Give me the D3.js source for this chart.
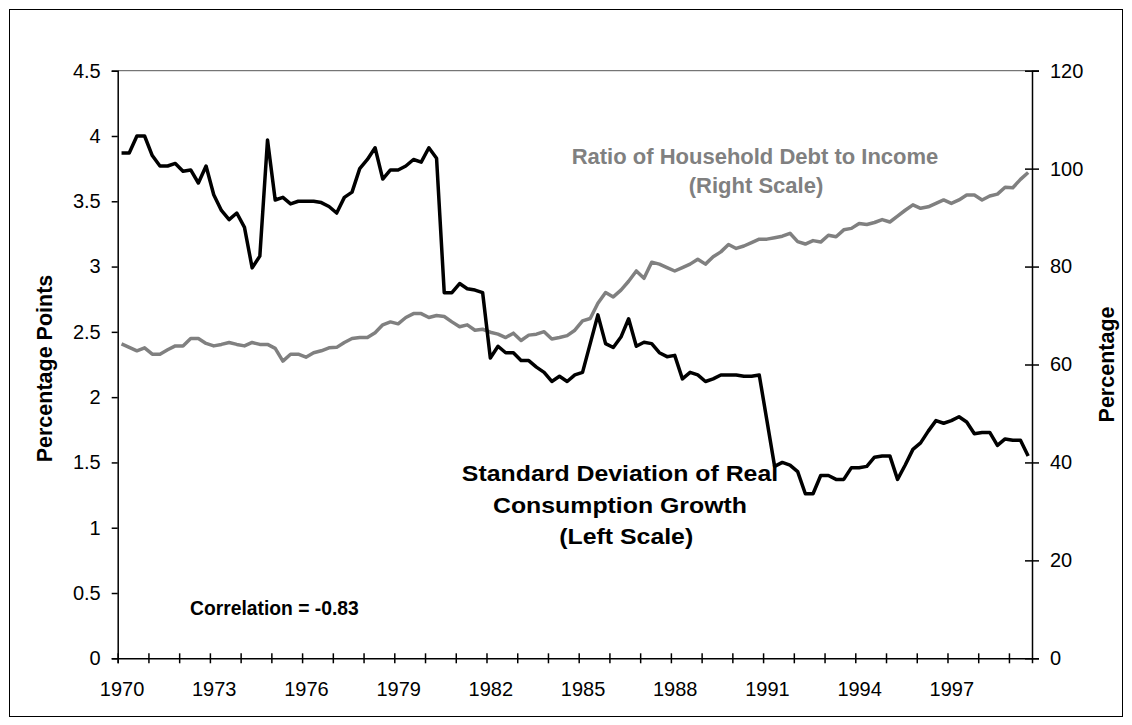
<!DOCTYPE html>
<html>
<head>
<meta charset="utf-8">
<script src="https://cdn.jsdelivr.net/npm/d3@7"></script>
<style>
  html, body { margin: 0; padding: 0; background: #fff; }
  svg { display: block; font-family: "Liberation Sans", Arial, sans-serif; }
</style>
</head>
<body>
<svg id="chart" width="1132" height="725"></svg>
<script>
// ---- DATA (quarterly, 1970Q1 .. 1999Q3) ----
const years = d3.range(1970, 2000);
const categories = [];
years.forEach(y => [1, 2, 3, 4].forEach(q => categories.push(y + "Q" + q)));
categories.length = 119;

const yearLabels = ["1970", "1973", "1976", "1979", "1982", "1985", "1988", "1991", "1994", "1997"];
const leftTicks = [0, 0.5, 1, 1.5, 2, 2.5, 3, 3.5, 4, 4.5];
const rightTicks = [0, 20, 40, 60, 80, 100, 120];

// Standard deviation of real consumption growth (left scale)
const stdDev = [
  3.87, 3.87, 4.00, 4.00, 3.85, 3.77, 3.77, 3.79, 3.73, 3.74,
  3.64, 3.77, 3.55, 3.43, 3.36, 3.41, 3.30, 2.99, 3.08, 3.97,
  3.51, 3.53, 3.48, 3.50, 3.50, 3.50, 3.49, 3.46, 3.41, 3.53,
  3.57, 3.75, 3.82, 3.91, 3.67, 3.74, 3.74, 3.77, 3.82, 3.80,
  3.91, 3.83, 2.80, 2.80, 2.87, 2.83, 2.82, 2.80, 2.30, 2.39,
  2.34, 2.34, 2.28, 2.28, 2.23, 2.19, 2.12, 2.16, 2.12, 2.17,
  2.19, 2.41, 2.63, 2.41, 2.38, 2.46, 2.60, 2.39, 2.42, 2.41,
  2.34, 2.31, 2.32, 2.14, 2.19, 2.17, 2.12, 2.14, 2.17, 2.17,
  2.17, 2.16, 2.16, 2.17, 1.82, 1.47, 1.50, 1.48, 1.43, 1.26,
  1.26, 1.40, 1.40, 1.37, 1.37, 1.46, 1.46, 1.47, 1.54, 1.55,
  1.55, 1.37, 1.48, 1.60, 1.65, 1.74, 1.82, 1.80, 1.82, 1.85,
  1.81, 1.72, 1.73, 1.73, 1.63, 1.68, 1.67, 1.67, 1.55
];

// Ratio of household debt to income (right scale, %)
const debtRatio = [
  64.2, 63.5, 62.8, 63.4, 62.1, 62.1, 63.0, 63.8, 63.8, 65.3,
  65.3, 64.3, 63.8, 64.1, 64.5, 64.1, 63.8, 64.5, 64.1, 64.1,
  63.3, 60.7, 62.1, 62.1, 61.5, 62.4, 62.8, 63.4, 63.5, 64.5,
  65.3, 65.5, 65.5, 66.5, 68.1, 68.7, 68.3, 69.6, 70.4, 70.4,
  69.6, 70.0, 69.8, 68.7, 67.7, 68.1, 67.0, 67.2, 66.6, 66.2,
  65.5, 66.4, 64.9, 66.0, 66.2, 66.7, 65.2, 65.5, 65.9, 67.0,
  68.9, 69.4, 72.5, 74.7, 73.8, 75.2, 77.0, 79.1, 77.6, 80.9,
  80.5, 79.8, 79.1, 79.8, 80.5, 81.5, 80.5, 82.0, 83.0, 84.5,
  83.7, 84.2, 84.9, 85.6, 85.6, 85.9, 86.2, 86.8, 85.1, 84.6,
  85.3, 85.0, 86.4, 86.1, 87.5, 87.8, 88.8, 88.6, 89.0, 89.6,
  89.1, 90.3, 91.5, 92.6, 91.9, 92.2, 92.9, 93.6, 92.9, 93.6,
  94.6, 94.6, 93.6, 94.4, 94.8, 96.2, 96.1, 97.8, 99.2
];

// ---- LAYOUT ----
const plot = { left: 117.7, right: 1032, top: 70.7, bottom: 658.3 };
const svg = d3.select("#chart");

// outer border
svg.append("rect").attr("x", 9.5).attr("y", 9.5).attr("width", 1113).attr("height", 707)
  .attr("fill", "none").attr("stroke", "#000").attr("stroke-width", 1);

const x = d3.scaleLinear().domain([0, categories.length]).range([plot.left, plot.right]);
const yL = d3.scaleLinear().domain([0, 4.5]).range([plot.bottom, plot.top]);
const yR = d3.scaleLinear().domain([0, 120]).range([plot.bottom, plot.top]);

// plot-area top border
svg.append("line").attr("x1", plot.left).attr("x2", plot.right + 7)
  .attr("y1", plot.top).attr("y2", plot.top).attr("stroke", "#555").attr("stroke-width", 1);

// lines
const lineL = d3.line().x((d, i) => x(i + 0.5)).y(d => yL(d));
const lineR = d3.line().x((d, i) => x(i + 0.5)).y(d => yR(d));

svg.append("path").datum(debtRatio).attr("d", lineR)
  .attr("fill", "none").attr("stroke", "#808080").attr("stroke-width", 3.5).attr("stroke-linejoin", "round");
svg.append("path").datum(stdDev).attr("d", lineL)
  .attr("fill", "none").attr("stroke", "#000").attr("stroke-width", 3.5).attr("stroke-linejoin", "round");

// left axis
const gL = svg.append("g").attr("transform", `translate(${plot.left},0)`)
  .call(d3.axisLeft(yL).tickValues(leftTicks).tickFormat(d => String(d)).tickSize(6).tickPadding(11));
// right axis
const gR = svg.append("g").attr("transform", `translate(${plot.right},0)`)
  .call(d3.axisRight(yR).tickValues(rightTicks).tickFormat(d => String(d)).tickSize(7).tickPadding(11));
gR.selectAll(".tick line").attr("x1", -7);
// bottom axis: tick marks each year (every 4 quarters), crossing
const tickIdx = d3.range(0, categories.length, 4);
const gB = svg.append("g").attr("transform", `translate(0,${plot.bottom})`)
  .call(d3.axisBottom(x).tickValues(tickIdx).tickSize(5).tickFormat(""));
gB.selectAll(".tick line").attr("y1", -5);
// bottom labels every 3 years, centred on the first quarter
const labelIdx = yearLabels.map(y => categories.indexOf(y + "Q1") + 0.5);
const gB2 = svg.append("g").attr("transform", `translate(0,${plot.bottom})`)
  .call(d3.axisBottom(x).tickValues(labelIdx).tickSize(0).tickPadding(24)
    .tickFormat((d, i) => yearLabels[i]));
gB2.select(".domain").remove();

[gL, gR, gB, gB2].forEach(g => {
  g.selectAll("text").attr("font-size", 20).attr("fill", "#000")
    .attr("font-family", '"Liberation Sans", Arial, sans-serif');
  g.selectAll("line, path").attr("stroke", "#000").attr("stroke-width", 1.5);
});

// axis titles
svg.append("text").attr("transform", `translate(52,${(plot.top + plot.bottom) / 2 + 4}) rotate(-90)`)
  .attr("text-anchor", "middle").attr("font-weight", "bold").attr("font-size", 21.5)
  .text("Percentage Points");
svg.append("text").attr("transform", `translate(1114,${(plot.top + plot.bottom) / 2}) rotate(-90)`)
  .attr("text-anchor", "middle").attr("font-weight", "bold").attr("font-size", 21.5)
  .text("Percentage");

// annotations
const grayNote = svg.append("text").attr("text-anchor", "middle").attr("font-weight", "bold")
  .attr("font-size", 22).attr("fill", "#808080");
grayNote.append("tspan").attr("x", 755).attr("y", 164).text("Ratio of Household Debt to Income");
grayNote.append("tspan").attr("x", 756).attr("y", 193).text("(Right Scale)");

const blackNote = svg.append("g").attr("transform", "translate(620,0) scale(1.13,1)")
  .append("text").attr("text-anchor", "middle").attr("font-weight", "bold")
  .attr("font-size", 22).attr("fill", "#000");
blackNote.append("tspan").attr("x", 0).attr("y", 481).text("Standard Deviation of Real");
blackNote.append("tspan").attr("x", 0).attr("y", 513).text("Consumption Growth");
blackNote.append("tspan").attr("x", 5.5).attr("y", 544).text("(Left Scale)");

svg.append("text").attr("x", 190).attr("y", 615).attr("font-weight", "bold").attr("font-size", 19.3)
  .text("Correlation = -0.83");
</script>
</body>
</html>
